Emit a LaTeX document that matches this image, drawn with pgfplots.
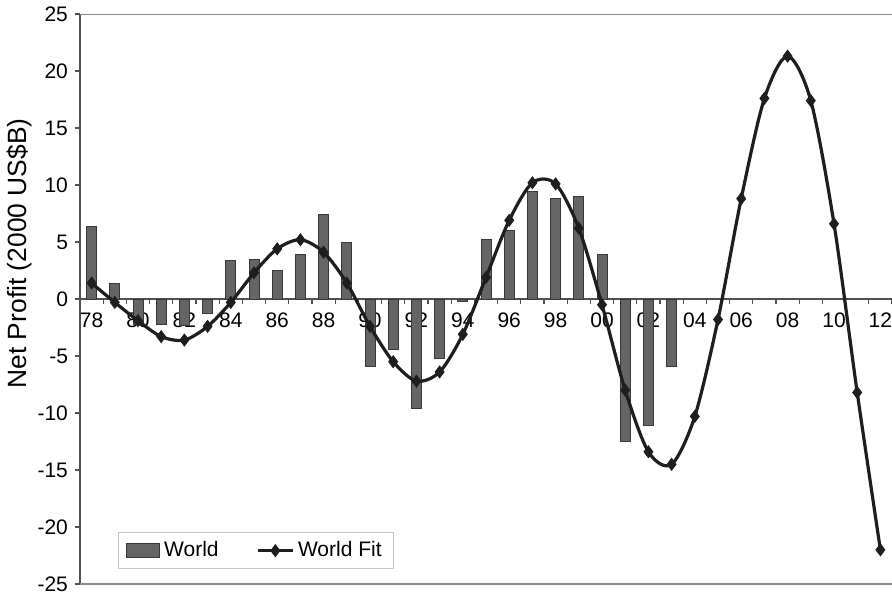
\documentclass[border=0pt]{standalone}
\usepackage{fontspec}
\setmainfont{Liberation Sans}
\usepackage{pgfplots}
\pgfplotsset{compat=1.18}
\definecolor{barfill}{HTML}{656565}
\definecolor{baredge}{HTML}{383838}
\definecolor{fitcol}{HTML}{1E1E1E}
\definecolor{axcol}{HTML}{505050}
\definecolor{bordercol}{HTML}{8A8A8A}
\begin{document}
\begin{tikzpicture}[font=\fontsize{10.5}{12.6}\selectfont]
\useasboundingbox (-40pt,-5pt) rectangle (406pt,292pt);
\begin{axis}[
  at={(0pt,0pt)}, anchor=south west,
  scale only axis, width=406pt, height=285pt,
  xmin=-0.5, xmax=34.5, ymin=-25, ymax=25,
  axis x line*=middle, axis y line*=left,
  axis line style={axcol, line width=0.6pt},
  ytick={-25,-20,...,25},
  xtick={0,2,...,34},
  xticklabels={78,80,82,84,86,88,90,92,94,96,98,00,02,04,06,08,10,12},
  minor xtick={-0.5,0.5,...,34.5},
  tick align=outside,
  major tick length=2.5pt, minor tick length=2.5pt,
  major x tick style={draw=none},
  tick style={axcol, line width=0.6pt},
  /pgf/number format/assume math mode=true,
  xticklabel style={anchor=north, yshift=-1pt},
  ylabel={Net Profit (2000 US\$B)},
  ylabel style={at={(axis description cs:-0.074,0.58)}, anchor=center, font=\fontsize{13.2}{15}\selectfont},
  legend style={at={(axis description cs:0.0468,0.026)}, anchor=south west,
    draw=bordercol!50, line width=0.4pt, inner xsep=4pt, inner ysep=2.5pt,
    font=\fontsize{10.5}{12.6}\selectfont},
  legend columns=2,
  legend cell align=left,
  /tikz/every even column/.append style={column sep=17pt},
]
\addplot[ybar, bar width=0.43, fill=barfill, draw=baredge, line width=0.4pt,
  legend image code/.code={\draw[fill=barfill,draw=baredge,line width=0.4pt] (0pt,-3.5pt) rectangle (16.5pt,3.5pt);}]
  table {
x y
0 6.4
1 1.4
2 -2.2
3 -2.2
4 -2.3
5 -1.3
6 3.4
7 3.5
8 2.5
9 3.9
10 7.4
11 5.0
12 -5.9
13 -4.4
14 -9.6
15 -5.2
16 -0.2
17 5.2
18 6.0
19 9.4
20 8.8
21 9.0
22 3.9
23 -12.5
24 -11.1
25 -5.9
};
\addlegendentry{World}
\addplot[fitcol, line width=1.6pt, smooth, tension=0.5, mark=diamond*, mark size=3pt,
  mark options={fill=fitcol, draw=fitcol, line width=0.4pt}]
  table {
x y
0 1.4
1 -0.3
2 -1.9
3 -3.3
4 -3.6
5 -2.4
6 -0.3
7 2.3
8 4.4
9 5.2
10 4.1
11 1.4
12 -2.4
13 -5.5
14 -7.2
15 -6.4
16 -3.1
17 1.9
18 6.9
19 10.2
20 10.1
21 6.2
22 -0.5
23 -8.0
24 -13.4
25 -14.5
26 -10.3
27 -1.8
28 8.8
29 17.6
30 21.3
31 17.4
32 6.6
33 -8.2
34 -22.0
};
\addlegendentry{World Fit}
\draw[bordercol, line width=0.6pt] (rel axis cs:0,1) -- (rel axis cs:1,1);
\draw[bordercol, line width=0.6pt] (rel axis cs:0,0) -- (rel axis cs:1,0);
\end{axis}
\end{tikzpicture}
\end{document}
